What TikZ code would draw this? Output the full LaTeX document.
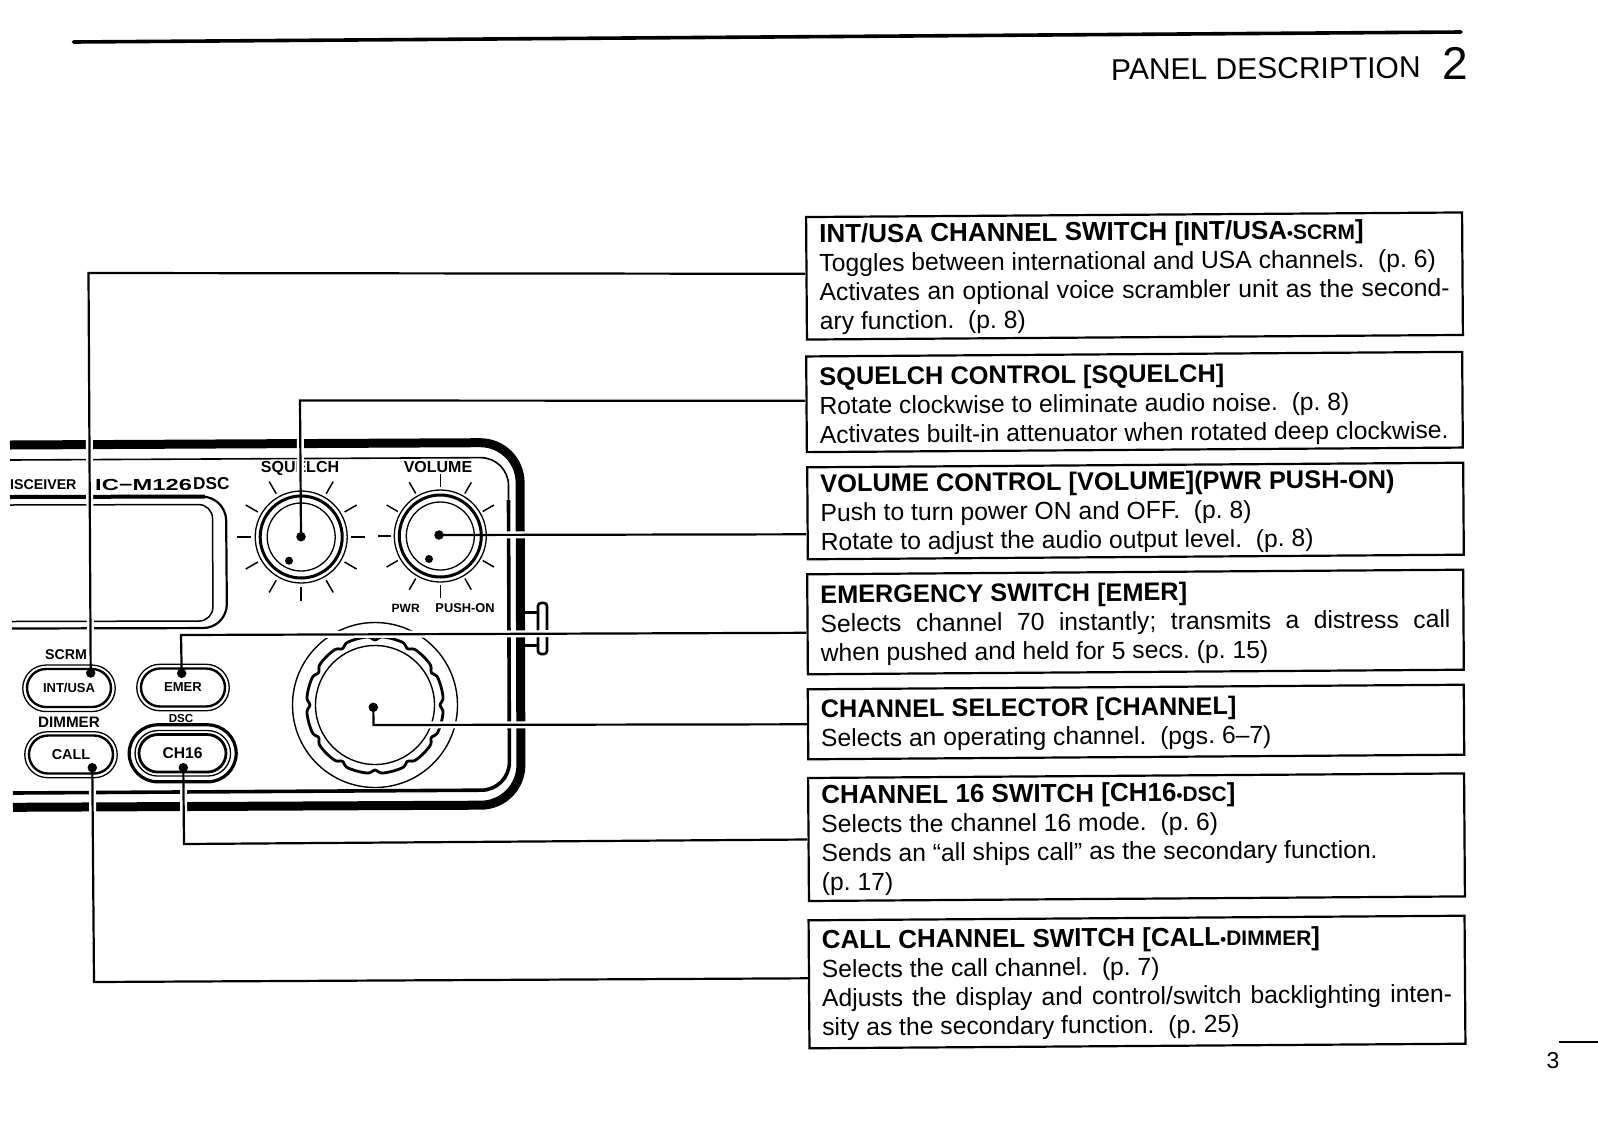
\documentclass[tikz,border=0pt]{standalone}
\usepackage{fontspec}
\setmainfont{Liberation Sans}
\newcommand{\medf}{\bfseries}
\usetikzlibrary{calc,shapes.misc}
\newcommand{\fsz}[1]{\fontsize{#1}{#1}\selectfont}
\newcommand{\ttl}[2][26]{\rule{0pt}{21pt}{\bfseries\fontsize{#1}{29}\selectfont #2}}
\newcommand{\jl}[1]{\makebox[630pt][s]{#1}}
\tikzset{
  infobox/.style={draw=black,line width=2.2pt,fill=white,minimum width=656pt,rotate=0.4,inner xsep=13pt,inner ysep=0pt,text width=630pt,align=flush left,font=\fontsize{24.7}{29}\selectfont\frenchspacing},
  conn/.style={draw=black,line width=2.2pt,line join=miter},
  halo/.style={draw=white,line width=7pt},
  dotn/.style={circle,fill=black,inner sep=0pt,minimum size=9.5pt},
  smalldot/.style={circle,fill=black,inner sep=0pt,minimum size=8pt},
  lab/.style={inner sep=0pt,text=black},
  pillline/.style={draw=black,rounded rectangle,inner sep=0pt},
  tickline/.style={draw=black,line width=1.5pt},
}
\begin{document}
\begin{tikzpicture}[x=1pt,y=-1pt]
\useasboundingbox (0,0) rectangle (1598,1122);
\fill[white] (0,0) rectangle (1598,1122);
% header
\coordinate (ruleA) at (73.5,42); \coordinate (ruleB) at (1461,32);
\draw[line width=3.6pt,line cap=round] (ruleA) -- (ruleB);
\node[lab,anchor=base west,rotate=0.4] (hdr) at (1111,80) {\fsz{30}PANEL DESCRIPTION};
\node[lab,anchor=base west] (hdrn) at (1442,79) {\fsz{46}2};
\coordinate (pgA) at (1559,1042); \coordinate (pgB) at (1598,1042);
\draw[line width=2pt] (pgA) -- (pgB);
\node[lab] (pgn) at (1553,1061) {\fsz{23}3};

% panel
\draw[line width=9pt,rounded corners=40pt] (10,445) -- (520,442.5) -- (521,805) -- (13,807.3);
\draw[line width=1.6pt,rounded corners=28pt] (10,460) -- (508.5,457.5) -- (508.5,520);
\draw[line width=3.6pt,rounded corners=28pt] (508.5,500) -- (509.5,790) -- (13,793);
% display frame
\draw[line width=4pt] (10,497) -- (205,496.5);
\draw[line width=2.2pt,rounded corners=24pt] (100,497) -- (226,496.5) -- (227,628) -- (12,628.5);
\draw[line width=1.5pt,rounded corners=14pt] (10,505) -- (212.5,504.5) -- (213,621) -- (12,621.5);
% tab on the right edge
\draw[line width=3pt] (525,612.7) -- (538,612.7);
\draw[line width=3pt] (525,645) -- (538,645);
\draw[line width=2.6pt,rounded corners=3pt] (538,603) rectangle (547,654);
% channel dial
\coordinate (kc) at (375,705);
\draw[line width=1.4pt] (kc) circle[radius=82.5];
\draw[line width=1.4pt] (kc) circle[radius=59.5];
\draw[line width=2.8pt,domain=0:360,samples=361,variable=\t]
  plot ({375+cos(\t)*(68.5-3.4*(0.52+0.48*cos(12*\t))^8)},{705-sin(\t)*(68.5-3.4*(0.52+0.48*cos(12*\t))^8)}) -- cycle;
% panel labels
\node[lab,anchor=west] (lsc) at (10,485) {\medf\fsz{14.2}ISCEIVER};
\node[lab,anchor=west] (llogo) at (95,485) {\scalebox{1.48}[1]{\bfseries\fsz{16}IC−M126}};
\node[lab,anchor=west] (ldsc) at (193,484) {\medf\fsz{17.2}DSC};
\node[lab] (lsq) at (300,468) {\medf\fsz{16}SQUELCH};
\node[lab] (lvo) at (438,467) {\medf\fsz{16}VOLUME};
\node[lab] (lpw) at (405.7,608) {\medf\fsz{12}PWR};
\node[lab] (lpu) at (465,608) {\medf\fsz{12.8}PUSH-ON};
\node[lab] (lscrm) at (66,655) {\medf\fsz{14.2}SCRM};
\node[lab] (ldim) at (69,722.7) {\medf\fsz{15.2}DIMMER};
\node[lab] (ldsc2) at (181,718) {\medf\fsz{11.6}DSC};

% info boxes
\node[infobox,minimum height=122.5pt] (b1) at (1134.5,276) {\ttl{INT/USA CHANNEL SWITCH [INT/USA{\fsz{17}•}{\fsz{21}SCRM}]}\\Toggles between international and USA channels.~~(p. 6)\\\jl{Activates an optional voice scrambler unit as the second-}\\ary function.~~(p. 8)};
\node[infobox,minimum height=95.7pt] (b2) at (1134.5,402) {\rule{0pt}{25pt}\ttl[25.4]{SQUELCH CONTROL [SQUELCH]}\\Rotate clockwise to eliminate audio noise.~~(p. 8)\\Activates built-in attenuator when rotated deep clockwise.};
\node[infobox,minimum height=92pt] (b3) at (1135.5,511) {\ttl[25.4]{VOLUME CONTROL [VOLUME](PWR PUSH-ON)}\\Push to turn power ON and OFF.~~(p. 8)\\Rotate to adjust the audio output level.~~(p. 8)};
\node[infobox,minimum height=100pt] (b4) at (1135.5,622) {\ttl[25.3]{EMERGENCY SWITCH [EMER]}\\\jl{Selects channel 70 instantly; transmits a distress call}\\when pushed and held for 5 secs. (p. 15)};
\node[infobox,minimum height=70pt] (b5) at (1136,722) {\ttl[25.3]{CHANNEL SELECTOR [CHANNEL]}\\Selects an operating channel.~~(pgs. 6–7)};
\node[infobox,minimum height=123pt] (b6) at (1136.5,837.2) {\ttl{CHANNEL 16 SWITCH [CH16{\fsz{17}•}{\fsz{21}DSC}]}\\Selects the channel 16 mode.~~(p. 6)\\Sends an “all ships call” as the secondary function.\\(p. 17)};
\node[infobox,minimum height=128pt] (b7) at (1137,982) {\ttl{CALL CHANNEL SWITCH [CALL{\fsz{17}•}{\fsz{21}DIMMER}]}\\Selects the call channel.~~(p. 7)\\\jl{Adjusts the display and control/switch backlighting inten-}\\sity as the secondary function.~~(p. 25)};

% connector end points
\coordinate (c1) at ($(b1.west)+(0,-4.5)$);
\coordinate (c2) at ($(b2.west)+(0,-3.5)$);
\coordinate (c3) at ($(b3.west)+(0,21)$);
\coordinate (c4) at ($(b4.west)+(0,8.5)$);
\coordinate (c5) at ($(b5.west)+(0,0)$);
\coordinate (c6) at ($(b6.west)+(0,0)$);
\coordinate (c7) at ($(b7.west)+(0,-6)$);
\coordinate (k1) at (88.5,273);
\coordinate (k2) at (300,400.5);
\coordinate (k4) at (181,635);
\coordinate (k5) at (373.5,725);
\coordinate (k6) at (184,844);
\coordinate (k7) at (94,982);
% dots
\coordinate (p1) at (90.7,673);
\coordinate (p2) at (301,536.7);
\coordinate (p3) at (439,535);
\coordinate (p4) at (181.7,673.3);
\coordinate (p5) at (373.3,707.3);
\coordinate (p6) at (183.3,767.7);
\coordinate (p7) at (92.3,767.7);

% white halos
\draw[halo] (p1) -- (k1) -- (c1);
\draw[halo] (p2) -- (k2) -- (c2);
\draw[halo] (p3) -- (c3);
\draw[halo] (p4) -- (k4) -- (c4);
\draw[halo] (p5) -- (k5) -- (c5);
\draw[halo] (p6) -- (k6) -- (c6);
\draw[halo] (p7) -- (k7) -- (c7);

% buttons
\node[pillline,line width=1.3pt,minimum width=92.5pt,minimum height=46.5pt] (oA) at (69,688.3) {};
\node[pillline,line width=2.4pt,minimum width=84pt,minimum height=38pt,font=\medf\fsz{13}] (iA) at (69,688) {\raisebox{-1pt}{INT/USA}};
\node[pillline,line width=1.3pt,minimum width=92.5pt,minimum height=46.5pt] (oB) at (183,687.5) {};
\node[pillline,line width=2.4pt,minimum width=84pt,minimum height=38pt,font=\medf\fsz{13}] (iB) at (183,687.5) {\raisebox{-0.5pt}{EMER}\hspace{3pt}};
\node[pillline,line width=1.3pt,minimum width=92.5pt,minimum height=46pt] (oC) at (71,754.7) {};
\node[pillline,line width=2.4pt,minimum width=84pt,minimum height=38pt,font=\medf\fsz{14.4}] (iC) at (71,754.5) {\raisebox{-1pt}{CALL}};
\node[pillline,line width=3.2pt,minimum width=107pt,minimum height=57pt] (oD) at (182.7,753.3) {};
\node[pillline,line width=1.3pt,minimum width=95.5pt,minimum height=45.5pt] (mD) at (182.8,753.3) {};
\node[pillline,line width=2.8pt,minimum width=87pt,minimum height=37.5pt,font=\medf\fsz{15.6}] (iD) at (182.5,753.3) {\raisebox{-2pt}{CH16}\hspace{4pt}};

% knobs
\coordinate (ks) at (301.2,537);
\coordinate (kv) at (440.3,536);
\foreach \kk in {ks,kv}{
  \draw[line width=1.3pt] (\kk) circle[radius=46];
  \draw[line width=3pt] (\kk) circle[radius=41];
  \draw[line width=1.3pt] (\kk) circle[radius=34];
}
\foreach \a in {0,30,60,90,120,150,180,210,240,300,330}
  \draw[tickline] ($(ks)+(\a:50)$) -- ($(ks)+(\a:64)$);
\foreach \a in {30,60,90,120,150,180,210,240,270,300,330}
  \draw[tickline] ($(kv)+(\a:49)$) -- ($(kv)+(\a:62)$);
\node[smalldot] (sd1) at (289,560.7) {};
\node[smalldot] (sd2) at (429,559) {};

% connectors
\node[dotn] (d1) at (p1) {};
\node[dotn] (d2) at (p2) {};
\node[dotn] (d3) at (p3) {};
\node[dotn] (d4) at (p4) {};
\node[dotn] (d5) at (p5) {};
\node[dotn] (d6) at (p6) {};
\node[dotn] (d7) at (p7) {};
\draw[conn] (d1.center) -- (k1) -- (c1);
\draw[conn] (d2.center) -- (k2) -- (c2);
\draw[conn] (d3.center) -- (c3);
\draw[conn] (d4.center) -- (k4) -- (c4);
\draw[conn] (d5.center) -- (k5) -- (c5);
\draw[conn] (d6.center) -- (k6) -- (c6);
\draw[conn] (d7.center) -- (k7) -- (c7);
\end{tikzpicture}
\end{document}
